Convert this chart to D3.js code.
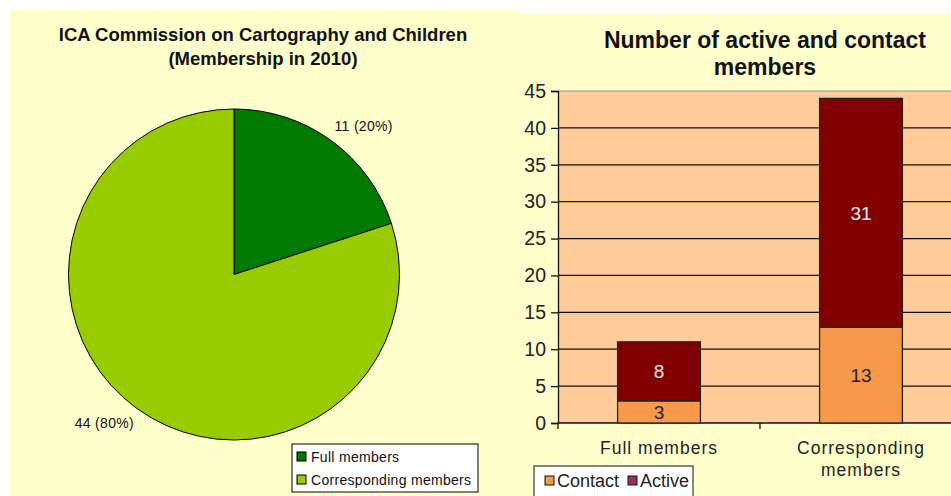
<!DOCTYPE html>
<html>
<head>
<meta charset="utf-8">
<script src="https://cdn.jsdelivr.net/npm/d3@7"></script>
<style>
  body { margin: 0; background: #fff; }
  text { font-family: "Liberation Sans", Arial, sans-serif; }
</style>
</head>
<body>
<script>
// pie data
var pieLabels = ["Full members", "Corresponding members"];
var pieValues = [11, 44];
var pieColors = ["#007a00", "#99cc00"];

// stacked bar data
var barCategories = ["Full members", "Corresponding members"];
var contactValues = [3, 13];
var activeValues = [8, 31];
var yTicks = [0, 5, 10, 15, 20, 25, 30, 35, 40, 45];

var svg = d3.select("body").append("svg")
    .attr("width", 951)
    .attr("height", 496);

// panel backgrounds
svg.append("rect").attr("x", 10).attr("y", 10).attr("width", 510).attr("height", 486).attr("fill", "#ffffcc");
svg.append("rect").attr("x", 500).attr("y", 13).attr("width", 451).attr("height", 483).attr("fill", "#ffffcc");

/* ---------- left: pie ---------- */
var pie = svg.append("g");
pie.append("text").attr("x", 263).attr("y", 41).attr("text-anchor", "middle")
    .attr("font-size", 18.5).attr("font-weight", "bold").attr("fill", "#111")
    .text("ICA Commission on Cartography and Children");
pie.append("text").attr("x", 263).attr("y", 65).attr("text-anchor", "middle")
    .attr("font-size", 18.5).attr("font-weight", "bold").attr("fill", "#111")
    .text("(Membership in 2010)");

var cx = 234, cy = 274.5, r = 165.5;
var total = d3.sum(pieValues);
var arcs = d3.pie().sort(null)(pieValues);
var arc = d3.arc().innerRadius(0).outerRadius(r);

var pg = pie.append("g").attr("transform", "translate(" + cx + "," + cy + ")");
pg.selectAll("path")
    .data(arcs)
  .enter().append("path")
    .attr("d", arc)
    .attr("fill", function(d, i) { return pieColors[i]; })
    .attr("stroke", "#000")
    .attr("stroke-width", 1);

pg.selectAll("text.lbl")
    .data(arcs)
  .enter().append("text")
    .attr("class", "lbl")
    .attr("transform", function(d) {
      var a = (d.startAngle + d.endAngle) / 2 + 0.09;
      return "translate(" + (197 * Math.sin(a)) + "," + (-197 * Math.cos(a)) + ")";
    })
    .attr("dy", "0.35em")
    .attr("text-anchor", "middle")
    .attr("font-size", 14)
    .attr("letter-spacing", 0.3)
    .attr("fill", "#111")
    .text(function(d) { return d.data + " (" + Math.round(d.data / total * 100) + "%)"; });

// pie legend
var pl = pie.append("g").attr("transform", "translate(292,444)");
pl.append("rect").attr("width", 186).attr("height", 48).attr("fill", "#fff").attr("stroke", "#000");
pieLabels.forEach(function(l, i) {
  pl.append("rect").attr("x", 5).attr("y", 8 + i * 23).attr("width", 9).attr("height", 9)
      .attr("fill", pieColors[i]).attr("stroke", "#000");
  pl.append("text").attr("x", 19).attr("y", 18 + i * 23)
      .attr("font-size", 14).attr("letter-spacing", 0.3).attr("fill", "#111").text(l);
});

/* ---------- right: stacked bars ---------- */
var bar = svg.append("g");
bar.append("text").attr("x", 765).attr("y", 48).attr("text-anchor", "middle")
    .attr("font-size", 23).attr("font-weight", "bold").attr("fill", "#111")
    .text("Number of active and contact");
bar.append("text").attr("x", 765).attr("y", 75).attr("text-anchor", "middle")
    .attr("font-size", 23).attr("font-weight", "bold").attr("fill", "#111")
    .text("members");

var y = d3.scaleLinear().domain([0, 45]).range([423, 91]);
var x = d3.scaleBand().domain(barCategories).range([558, 962]).padding(0);
var bw = x.bandwidth() * 0.41;

bar.append("rect").attr("x", 558).attr("y", y(45)).attr("width", 400).attr("height", y(0) - y(45))
    .attr("fill", "#ffcc99");
bar.append("line").attr("x1", 558).attr("x2", 951).attr("y1", y(45)).attr("y2", y(45))
    .attr("stroke", "#999");
bar.selectAll("line.grid")
    .data(yTicks.filter(function(t) { return t > 0 && t < 45; }))
  .enter().append("line")
    .attr("class", "grid")
    .attr("x1", 558).attr("x2", 951)
    .attr("y1", function(d) { return y(d); }).attr("y2", function(d) { return y(d); })
    .attr("stroke", "#111").attr("stroke-width", 1.3);

var yAxis = bar.append("g").attr("transform", "translate(558,0)")
    .call(d3.axisLeft(y).tickValues(yTicks).tickSize(7).tickPadding(5));
yAxis.select(".domain").attr("stroke", "#111").attr("stroke-width", 1.3);
yAxis.selectAll(".tick line").attr("stroke", "#111").attr("stroke-width", 1.3);
yAxis.selectAll("text").attr("font-size", 19.5).attr("fill", "#222")
    .attr("font-family", "'Liberation Sans', Arial, sans-serif");

// x axis
bar.append("line").attr("x1", 558).attr("x2", 951).attr("y1", y(0)).attr("y2", y(0))
    .attr("stroke", "#111").attr("stroke-width", 1.3);
barCategories.forEach(function(c) {
  bar.append("line").attr("x1", x(c)).attr("x2", x(c)).attr("y1", y(0)).attr("y2", y(0) + 6)
      .attr("stroke", "#111").attr("stroke-width", 1.3);
});

var catLines = [["Full members"], ["Corresponding", "members"]];
barCategories.forEach(function(c, i) {
  catLines[i].forEach(function(t, j) {
    bar.append("text").attr("x", x(c) + x.bandwidth() / 2).attr("y", 454 + j * 22)
        .attr("text-anchor", "middle").attr("font-size", 17.5).attr("letter-spacing", 1)
        .attr("fill", "#222").text(t);
  });
});

// bars
var contactColor = "#f7994a", activeColor = "#800000";
barCategories.forEach(function(c, i) {
  var bx = x(c) + x.bandwidth() / 2 - bw / 2;
  bar.append("rect").attr("x", bx).attr("y", y(contactValues[i])).attr("width", bw)
      .attr("height", y(0) - y(contactValues[i]))
      .attr("fill", contactColor).attr("stroke", "#222").attr("stroke-width", 1.3);
  bar.append("rect").attr("x", bx).attr("y", y(contactValues[i] + activeValues[i])).attr("width", bw)
      .attr("height", y(contactValues[i]) - y(contactValues[i] + activeValues[i]))
      .attr("fill", activeColor).attr("stroke", "#222").attr("stroke-width", 1.3);
  bar.append("text").attr("x", bx + bw / 2).attr("y", y(contactValues[i] / 2)).attr("dy", "0.36em")
      .attr("text-anchor", "middle").attr("font-size", 19).attr("fill", "#222")
      .text(contactValues[i]);
  bar.append("text").attr("x", bx + bw / 2).attr("y", y(contactValues[i] + activeValues[i] / 2)).attr("dy", "0.36em")
      .attr("text-anchor", "middle").attr("font-size", 19).attr("fill", "#f2eaf6")
      .text(activeValues[i]);
});

// bar legend
var bl = bar.append("g").attr("transform", "translate(534,466)");
bl.append("rect").attr("width", 159).attr("height", 40).attr("fill", "#fff").attr("stroke", "#111");
var legItems = [["Contact", contactColor, 11], ["Active", "#993366", 94]];
legItems.forEach(function(it) {
  bl.append("rect").attr("x", it[2]).attr("y", 10).attr("width", 9).attr("height", 9)
      .attr("fill", it[1]).attr("stroke", "#111");
  bl.append("text").attr("x", it[2] + 12).attr("y", 21)
      .attr("font-size", 18).attr("fill", "#222").text(it[0]);
});
</script>
</body>
</html>
